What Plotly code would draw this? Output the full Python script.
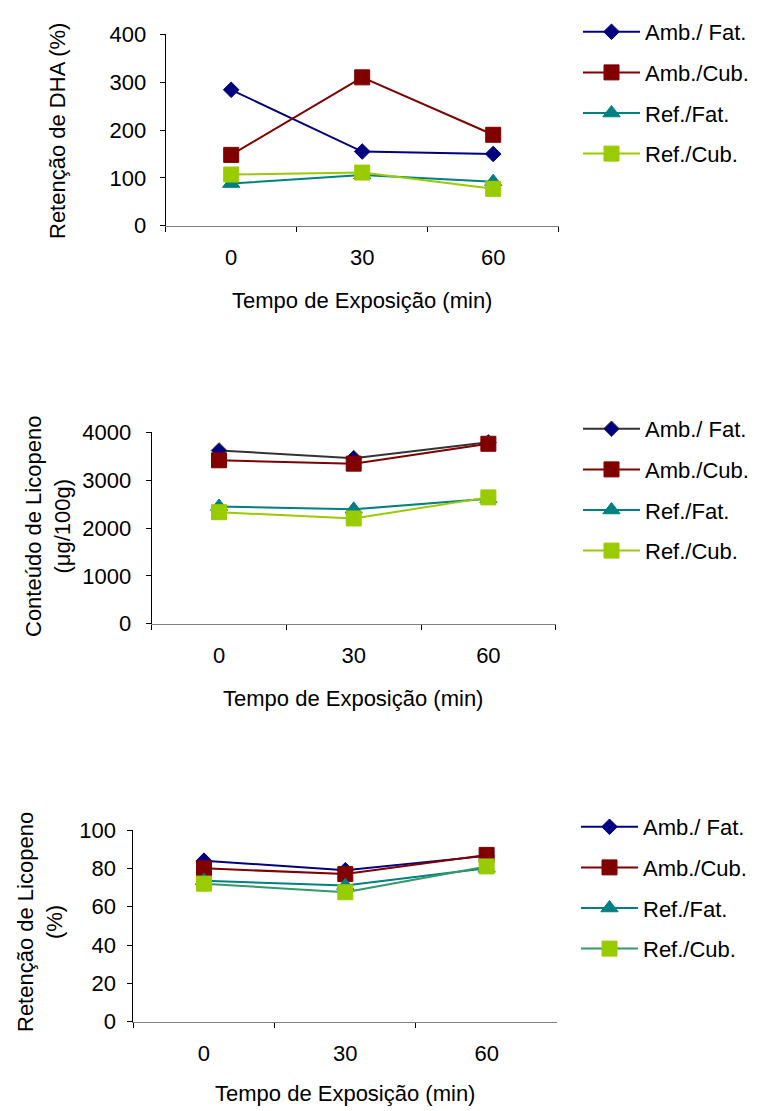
import plotly.graph_objects as go

# ---------------- data ----------------
tempo = ["0", "30", "60"]
series_names = ["Amb./ Fat.", "Amb./Cub.", "Ref./Fat.", "Ref./Cub."]

dha_amb_fat = [284, 155, 150]
dha_amb_cub = [148, 310, 190]
dha_ref_fat = [88, 106, 92]
dha_ref_cub = [107, 111, 77]

lic_amb_fat = [3620, 3460, 3790]
lic_amb_cub = [3415, 3345, 3760]
lic_ref_fat = [2450, 2390, 2610]
lic_ref_cub = [2330, 2200, 2640]

ret_amb_fat = [84, 79, 86.5]
ret_amb_cub = [80, 77, 87]
ret_ref_fat = [73.5, 71, 80]
ret_ref_cub = [72, 67.5, 81]

y_titles = ["Retenção de DHA (%)", "Conteúdo de Licopeno<br>(μg/100g)",
            "Retenção de Licopeno<br>(%)"]
x_title = "Tempo de Exposição (min)"

# ---------------- style ----------------
FONT = "Liberation Sans, Arial, sans-serif"
FS = 22
W, H = 760, 1111

NAVY, DRED, TEAL, LIME = "#000080", "#800000", "#008080", "#99CC00"
symbols = ["diamond", "square", "triangle-up", "square"]
msizes = [12, 15, 15, 15]
mcolors = [NAVY, DRED, TEAL, LIME]
line_colors = [
    [NAVY, DRED, TEAL, LIME],
    ["#333333", DRED, TEAL, LIME],
    [NAVY, DRED, TEAL, "#339966"],
]
mline_colors = [
    [NAVY, DRED, TEAL, LIME],
    ["#333333", DRED, TEAL, LIME],
    [NAVY, DRED, TEAL, LIME],
]

panels = [
    [dha_amb_fat, dha_amb_cub, dha_ref_fat, dha_ref_cub],
    [lic_amb_fat, lic_amb_cub, lic_ref_fat, lic_ref_cub],
    [ret_amb_fat, ret_amb_cub, ret_ref_fat, ret_ref_cub],
]

# pixel geometry (left, right, top, bottom) of each plot area
geom = [
    (165.7, 558.7, 34.3, 225.7),
    (151.7, 555.7, 432.3, 623.7),
    (133.3, 557.3, 830.0, 1021.7),
]
yranges = [(0, 400, 100), (0, 4000, 1000), (0, 100, 20)]
ystandoff = [9, 10, 7]
legend_pos = [(578, 11), (578, 408), (576, 806)]
ytitle_pos = [(58, 131), (48, 527), (40, 922)]
xtitle_pos = [(362, 301), (353, 698), (345, 1093)]

fig = go.Figure()

for p, series in enumerate(panels):
    sfx = "" if p == 0 else str(p + 1)
    leg = "legend" if p == 0 else "legend" + str(p + 1)
    for i, vals in enumerate(series):
        fig.add_trace(go.Scatter(
            x=tempo, y=vals, name=series_names[i],
            mode="lines+markers",
            line=dict(color=line_colors[p][i], width=2),
            marker=dict(symbol=symbols[i], size=msizes[i], color=mcolors[i],
                        line=dict(color=mline_colors[p][i], width=1)),
            xaxis="x" + sfx, yaxis="y" + sfx,
            legend=leg, legendgroup=f"p{p}_{i}",
        ))

    l, r, t, b = geom[p]
    y0, y1, dt = yranges[p]
    fig.update_layout(**{
        "xaxis" + sfx: dict(
            domain=[l / W, r / W], anchor="y" + sfx, type="category",
            range=[-0.5, 2.5], tickson="boundaries", ticks="outside",
            ticklen=5, tickcolor="#000000", showline=True,
            linecolor="#808080", linewidth=1, showgrid=False,
            ticklabelstandoff=12, automargin=False,
            tickfont=dict(family=FONT, size=FS, color="#000000"),
        ),
        "yaxis" + sfx: dict(
            domain=[1 - b / H, 1 - t / H], anchor="x" + sfx,
            range=[y0, y1], dtick=dt, ticks="outside", ticklen=5,
            tickcolor="#000000", showline=True, linecolor="#000000",
            linewidth=1, showgrid=False, zeroline=False,
            ticklabelstandoff=ystandoff[p], automargin=False,
            tickfont=dict(family=FONT, size=FS, color="#000000"),
        ),
        leg: dict(
            x=legend_pos[p][0] / W, y=1 - legend_pos[p][1] / H,
            xanchor="left", yanchor="top", itemwidth=57,
            tracegroupgap=9, bgcolor="rgba(0,0,0,0)",
            font=dict(family=FONT, size=FS, color="#000000"),
        ),
    })

    fig.add_annotation(
        text=y_titles[p], x=ytitle_pos[p][0] / W, y=1 - ytitle_pos[p][1] / H,
        xref="paper", yref="paper", showarrow=False, textangle=-90,
        xanchor="center", yanchor="middle",
        font=dict(family=FONT, size=FS, color="#000000"),
    )
    fig.add_annotation(
        text=x_title, x=xtitle_pos[p][0] / W, y=1 - xtitle_pos[p][1] / H,
        xref="paper", yref="paper", showarrow=False,
        xanchor="center", yanchor="middle",
        font=dict(family=FONT, size=FS, color="#000000"),
    )

fig.update_layout(
    width=W, height=H,
    margin=dict(l=0, r=0, t=0, b=0, autoexpand=False),
    paper_bgcolor="#ffffff", plot_bgcolor="#ffffff",
    showlegend=True,
    font=dict(family=FONT, size=FS, color="#000000"),
)

fig.write_html("out.html")
